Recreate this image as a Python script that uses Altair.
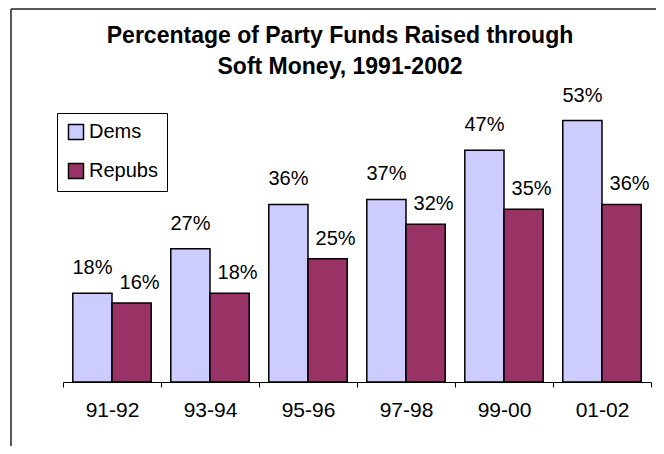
import altair as alt
import pandas as pd

periods = ["91-92", "93-94", "95-96", "97-98", "99-00", "01-02"]
dems = [18, 27, 36, 37, 47, 53]
repubs = [16, 18, 25, 32, 35, 36]
series = ["Dems", "Repubs"]
colors = ["#CCCCFF", "#993366"]
title_lines = ["Percentage of Party Funds Raised through", "Soft Money, 1991-2002"]

FONT = "Liberation Sans"

rows = []
for p, d, r in zip(periods, dems, repubs):
    rows.append({"period": p, "party": "Dems", "value": d, "label": f"{d}%"})
    rows.append({"period": p, "party": "Repubs", "value": r, "label": f"{r}%"})
df = pd.DataFrame(rows)

x = alt.X(
    "period:N",
    sort=periods,
    scale=alt.Scale(paddingInner=0, paddingOuter=0),
    axis=alt.Axis(
        title=None,
        labelAngle=0,
        tickBand="extent",
        tickSize=5,
        tickColor="black",
        domainColor="black",
        domainWidth=1,
        labelFontSize=21,
        labelFont=FONT,
        labelColor="black",
        labelPadding=12,
    ),
)
xo = alt.XOffset("party:N", sort=series, scale=alt.Scale(paddingOuter=0.25, paddingInner=0))
y = alt.Y("value:Q", scale=alt.Scale(domain=[0, 60]), axis=None)

bars = alt.Chart(df).mark_bar(stroke="black", strokeWidth=1.5).encode(
    x=x,
    xOffset=xo,
    y=y,
    color=alt.Color(
        "party:N",
        sort=series,
        scale=alt.Scale(domain=series, range=colors),
        legend=alt.Legend(
            title=None,
            orient="none",
            legendX=-6,
            legendY=27,
            symbolType="square",
            symbolSize=225,
            symbolStrokeColor="black",
            symbolStrokeWidth=1.5,
            labelFontSize=20,
            labelFont=FONT,
            labelColor="black",
            labelOffset=3,
            rowPadding=17,
            padding=9,
            strokeColor="black",
            fillColor="white",
        ),
    ),
)

text_dems = alt.Chart(df).transform_filter(alt.datum.party == "Dems").mark_text(
    baseline="alphabetic", dy=-19, fontSize=20, font=FONT, color="black"
).encode(x=x, xOffset=xo, y=y, text="label:N")

text_reps = alt.Chart(df).transform_filter(alt.datum.party == "Repubs").mark_text(
    baseline="alphabetic", dy=-14, dx=8, fontSize=20, font=FONT, color="black"
).encode(x=x, xOffset=xo, y=y, text="label:N")

frame = alt.Data(values=[{"k": 1}])
title_text = alt.Chart(frame).mark_text(
    baseline="alphabetic",
    align="center",
    fontSize=23,
    fontWeight="bold",
    font=FONT,
    color="black",
    lineHeight=31,
).encode(x=alt.value(277), y=alt.value(-43), text=alt.value(title_lines))

top_border = alt.Chart(frame).mark_rule(color="#222222", strokeWidth=1.5).encode(
    x=alt.value(-52), x2=alt.value(600), y=alt.value(-77)
)
left_border = alt.Chart(frame).mark_rule(color="#222222", strokeWidth=1.5).encode(
    x=alt.value(-52), y=alt.value(-77), y2=alt.value(400)
)

chart = alt.layer(bars, text_dems, text_reps, title_text, top_border, left_border).properties(
    width=588,
    height=296,
    autosize=alt.AutoSizeParams(type="none"),
    padding={"left": 55, "top": 78, "right": 5, "bottom": 64},
).configure_view(stroke="transparent")

chart.save("out.html", embed_options={"renderer": "svg", "actions": False})
